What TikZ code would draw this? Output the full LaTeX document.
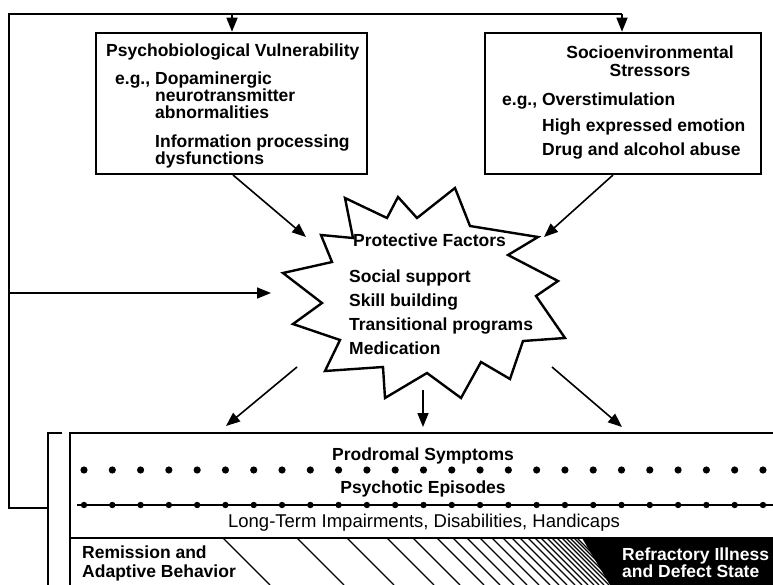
\documentclass[tikz,border=0pt]{standalone}
\usepackage{fontspec}
\setmainfont{Liberation Sans}
\usetikzlibrary{arrows.meta}

\tikzset{
  frame/.style={line width=1.8pt},
  box/.style={draw, rectangle, line width=2.6pt, inner sep=0pt},
  conn/.style={line width=1.6pt, -{Triangle[length=14pt,width=11pt]}},
  lbl/.style={font=\fontsize{17.5}{20}\selectfont\bfseries, inner sep=0pt, anchor=base west},
  clbl/.style={lbl, anchor=base},
  plain/.style={font=\fontsize{18.5}{20}\selectfont, inner sep=0pt, anchor=base},
  hatch/.style={line width=1.1pt},
}

\begin{document}
\begin{tikzpicture}[x=1pt,y=-1pt]
\useasboundingbox (0,0) rectangle (773,585);

% the two source boxes
\node[box, minimum width=271pt, minimum height=141pt] (pv) at (231.5,103.5) {};
\node[box, minimum width=276pt, minimum height=141pt] (se) at (623,103.5) {};

\node[lbl] (pv1) at (106,57) {Psychobiological Vulnerability};
\node[lbl] (pv2) at (115,85) {e.g.,};
\node[lbl] (pv3) at (155,85) {Dopaminergic};
\node[lbl] (pv4) at (155,102) {neurotransmitter};
\node[lbl] (pv5) at (155,119) {abnormalities};
\node[lbl] (pv6) at (155,148) {Information processing};
\node[lbl] (pv7) at (155,165) {dysfunctions};

\node[clbl] (se1) at (650,59) {Socioenvironmental};
\node[clbl] (se2) at (650,77) {Stressors};
\node[lbl] (se3) at (502,106) {e.g., Overstimulation};
\node[lbl] (se4) at (542,132) {High expressed emotion};
\node[lbl] (se5) at (542,156) {Drug and alcohol abuse};

% feedback frame along the top and left
\coordinate (tl) at (9,14);
\coordinate (tm) at (232,14);
\coordinate (tr) at (622,14);
\coordinate (turn) at (9,508);
\coordinate (tie) at (48,508);
\draw[frame] (tie) -- (turn) -- (tl) -- (tr);
\draw[conn] (tm) -- (tm |- pv.north);
\draw[conn] (tr) -- (tr |- se.north);

% bracket at the left of the course panel
\coordinate (bk1) at (62,433);
\coordinate (bk2) at (48,433);
\coordinate (bk3) at (48,585);
\draw[frame] (bk1) -- (bk2) -- (bk3);

% protective factors burst
\draw[line width=2.4pt, line join=miter, miter limit=20]
  (345,198) -- (387,218) -- (398,197) -- (417,218) -- (455,188) -- (470,226)
  -- (538,237) -- (508,255) -- (558,281) -- (536,296) -- (565,338) -- (523,341)
  -- (510,379) -- (481,362) -- (461,398) -- (427,373) -- (385,398) -- (383,367)
  -- (325,371) -- (340,340) -- (293,324) -- (322,303) -- (283,273) -- (332,262)
  -- (321,235) -- (353,238) -- cycle;
\coordinate (star) at (425,295);

\node[lbl] (pf0) at (353,247) {Protective Factors};
\node[lbl] (pf1) at (349,282) {Social support};
\node[lbl] (pf2) at (349,306) {Skill building};
\node[lbl] (pf3) at (349,330) {Transitional programs};
\node[lbl] (pf4) at (349,354) {Medication};

% arrows into the burst
\coordinate (pvout) at (233,175);
\coordinate (sin1) at (306,237);
\coordinate (seout) at (613,175);
\coordinate (sin2) at (544,237);
\coordinate (fb) at (9,293);
\coordinate (sin3) at (271,293);
\draw[conn] (pvout) -- (sin1);
\draw[conn] (seout) -- (sin2);
\draw[conn] (fb) -- (sin3);

% arrows out of the burst
\coordinate (so1) at (297,367);
\coordinate (ci1) at (226,426);
\coordinate (so2) at (423,390);
\coordinate (ci2) at (423,427);
\coordinate (so3) at (552,367);
\coordinate (ci3) at (622,427);
\draw[conn] (so1) -- (ci1);
\draw[conn] (so2) -- (ci2);
\draw[conn] (so3) -- (ci3);

% course-of-illness panel
\coordinate (p1) at (773,433);
\coordinate (p2) at (70,433);
\coordinate (p3) at (70,585);
\coordinate (d1) at (70,538);
\coordinate (d2) at (773,538);
\draw[frame] (p1) -- (p2) -- (p3);
\draw[frame] (d1) -- (d2);

\node[clbl] (pr) at (423,460) {Prodromal Symptoms};
\foreach \k in {0,...,24} \fill (84+28.29*\k,470) circle (3.6pt);
\node[clbl] (ps) at (423,493) {Psychotic Episodes};
\coordinate (l1) at (77,505);
\coordinate (l2) at (773,505);
\draw[line width=1.5pt] (l1) -- (l2);
\foreach \k in {0,...,24} \fill (84+28.29*\k,505) circle (3.2pt);
\node[plain] (lt) at (424,527) {Long-Term Impairments, Disabilities, Handicaps};

% graded shading from remission to refractory state
\foreach \h in {223,297,347,387,413,437,453,467,480,492,503,512,520,528,535,541,547,552,557,562,566,570,574,577}
  \draw[hatch] (\h,538) -- (\h+47,585);
\fill (582,538) -- (773,538) -- (773,585) -- (610,585) -- cycle;

\node[lbl] (rm1) at (82,558) {Remission and};
\node[lbl] (rm2) at (82,577) {Adaptive Behavior};
\node[lbl, text=white] (rf1) at (622,560) {Refractory Illness};
\node[lbl, text=white] (rf2) at (622,577) {and Defect State};
\end{tikzpicture}
\end{document}
